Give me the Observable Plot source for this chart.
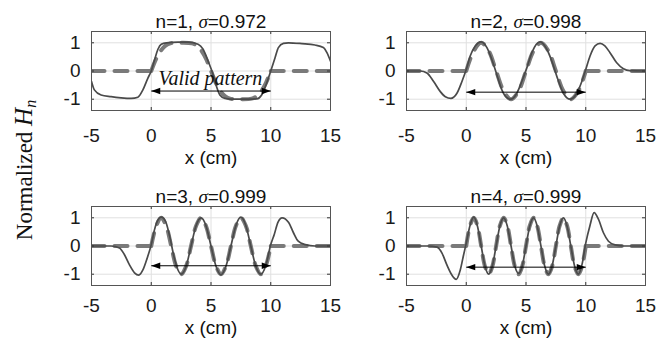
<!DOCTYPE html>
<html>
<head>
<meta charset="utf-8">
<script src="https://cdn.jsdelivr.net/npm/d3@7"></script>
<script src="https://cdn.jsdelivr.net/npm/@observablehq/plot@0.6"></script>
<style>
  html, body { margin: 0; padding: 0; background: #fff; }
  #wrap { position: relative; width: 668px; height: 339px; overflow: hidden; background: #fff; }
  .panel { position: absolute; }
  #ylab {
    position: absolute; width: 260px; height: 28px; line-height: 28px;
    left: -106px; top: 156px; text-align: center;
    transform: rotate(-90deg); transform-origin: 50% 50%;
    font-family: "Liberation Serif", "Times New Roman", serif; font-size: 23px; color: #111;
    white-space: nowrap;
  }
  #ylab i.h { font-size: 25px; }
  #ylab sub { font-size: 70%; vertical-align: -4px; }
</style>
</head>
<body>
<div id="wrap">
  <div id="ylab">Normalized <i class="h">H</i><sub><i>n</i></sub></div>
</div>
<script>
// ---------- data ----------
const xTicks = [-5, 0, 5, 10, 15];
const yTicks = [-1, 0, 1];
const panelNames = ["n=1", "n=2", "n=3", "n=4"];
const sigmaValues = ["0.972", "0.998", "0.999", "0.999"];
const validRange = [0, 10];
const arrowLevel = [-0.71, -0.75, -0.70, -0.75];
const outsideLeftX = [-5, 0];
const outsideRightX = [10, 15];
const annotationText = "Valid pattern";
const annotationAt = [4.95, -0.49];

// target (dashed) patterns inside the valid range
const target1X = [0, 0.4, 0.8, 1.2, 1.6, 2.5, 3.4, 3.8, 4.2, 4.6, 5, 5.4, 5.8, 6.2, 6.6, 7.5, 8.4, 8.8, 9.2, 9.6, 10];
const target1Y = [0, 0.42, 0.72, 0.9, 0.98, 1, 0.98, 0.9, 0.72, 0.42, 0, -0.42, -0.72, -0.9, -0.98, -1, -0.98, -0.9, -0.72, -0.42, 0];
const target2X = [0, 0.63, 1.25, 1.88, 2.5, 3.13, 3.75, 4.38, 5, 5.63, 6.25, 6.88, 7.5, 8.13, 8.75, 9.38, 10];
const target2Y = [0, 0.71, 1, 0.71, 0, -0.71, -1, -0.71, 0, 0.71, 1, 0.71, 0, -0.71, -1, -0.71, 0];
const target3X = [0, 0.42, 0.83, 1.25, 1.67, 2.08, 2.5, 2.92, 3.33, 3.75, 4.17, 4.58, 5, 5.42, 5.83, 6.25, 6.67, 7.08, 7.5, 7.92, 8.33, 8.75, 9.17, 9.58, 10];
const target3Y = [0, 0.71, 1, 0.71, 0, -0.71, -1, -0.71, 0, 0.71, 1, 0.71, 0, -0.71, -1, -0.71, 0, 0.71, 1, 0.71, 0, -0.71, -1, -0.71, 0];
const target4X = [0, 0.31, 0.63, 0.94, 1.25, 1.56, 1.88, 2.19, 2.5, 2.81, 3.13, 3.44, 3.75, 4.06, 4.38, 4.69, 5, 5.31, 5.63, 5.94, 6.25, 6.56, 6.88, 7.19, 7.5, 7.81, 8.13, 8.44, 8.75, 9.06, 9.38, 9.69, 10];
const target4Y = [0, 0.71, 1, 0.71, 0, -0.71, -1, -0.71, 0, 0.71, 1, 0.71, 0, -0.71, -1, -0.71, 0, 0.71, 1, 0.71, 0, -0.71, -1, -0.71, 0, 0.71, 1, 0.71, 0, -0.71, -1, -0.71, 0];

// measured (solid) responses
const meas1X = [-5, -4.76, -4.2, -3.36, -2.52, -1.68, -1.12, -0.7, -0.28, 0, 0.28, 0.56, 0.84, 1.26, 2.24, 3.08, 3.92, 4.34, 4.76, 5.18, 5.46, 5.74, 6.16, 7.0, 8.12, 8.82, 9.24, 9.66, 10, 10.36, 10.64, 11.06, 11.48, 12.6, 13.7, 14.4, 14.7, 15];
const meas1Y = [-0.37, -0.67, -0.85, -0.91, -0.95, -0.97, -0.93, -0.67, -0.25, 0, 0.4, 0.77, 0.95, 1.0, 1.02, 1.02, 0.95, 0.77, 0.35, -0.13, -0.55, -0.85, -0.97, -1.0, -1.0, -0.99, -0.85, -0.43, 0, 0.47, 0.83, 0.98, 1.0, 0.97, 0.92, 0.83, 0.65, 0.35];
const meas2X = [-5, -3.84, -3.29, -2.73, -2.17, -1.75, -1.28, -0.78, -0.36, 0, 0.33, 0.75, 1.23, 1.73, 2.14, 2.56, 2.98, 3.4, 3.73, 4.23, 4.65, 5.07, 5.49, 6.18, 6.74, 7.16, 7.58, 8.13, 8.69, 9.25, 9.67, 10, 10.36, 10.78, 11.2, 11.6, 12.03, 12.59, 13.15, 13.7, 15];
const meas2Y = [0, 0, -0.07, -0.37, -0.73, -0.91, -0.97, -0.79, -0.37, 0.05, 0.53, 0.89, 1.03, 0.83, 0.41, -0.13, -0.67, -0.95, -1.0, -0.79, -0.37, 0.11, 0.65, 1.03, 0.77, 0.35, -0.19, -0.79, -1.0, -0.79, -0.37, 0.05, 0.53, 0.89, 0.98, 0.89, 0.65, 0.29, 0.08, 0.01, 0];
const meas3X = [-5, -3.36, -2.66, -2.24, -1.82, -1.4, -1.04, -0.7, -0.34, 0, 0.28, 0.56, 0.84, 1.18, 1.54, 1.9, 2.24, 2.52, 2.92, 3.33, 3.75, 4.17, 4.58, 5, 5.42, 5.83, 6.25, 6.67, 7.08, 7.5, 7.92, 8.33, 8.75, 9.17, 9.58, 10, 10.3, 10.6, 10.95, 11.5, 11.9, 12.3, 12.9, 13.7, 15];
const meas3Y = [0, 0, -0.07, -0.31, -0.67, -0.95, -1.03, -0.85, -0.43, 0.05, 0.59, 0.92, 1.02, 0.89, 0.35, -0.37, -0.85, -1.0, -0.72, 0, 0.72, 1.0, 0.72, 0, -0.72, -1.02, -0.72, 0, 0.72, 1.02, 0.72, 0, -0.72, -1.0, -0.7, 0.05, 0.42, 0.84, 1.0, 0.83, 0.47, 0.17, 0.05, 0, 0];
const meas4X = [-5, -3.2, -2.45, -2.03, -1.62, -1.2, -0.84, -0.5, -0.22, 0, 0.31, 0.63, 0.94, 1.25, 1.56, 1.88, 2.19, 2.5, 2.81, 3.13, 3.44, 3.75, 4.06, 4.38, 4.69, 5, 5.31, 5.63, 5.94, 6.25, 6.56, 6.88, 7.19, 7.5, 7.81, 8.13, 8.44, 8.75, 9.06, 9.38, 9.69, 10, 10.35, 10.7, 11.06, 11.48, 11.9, 12.45, 13.15, 15];
const meas4Y = [0, 0, -0.04, -0.25, -0.67, -1.03, -1.18, -0.85, -0.31, 0.1, 0.72, 1.02, 0.7, 0, -0.7, -1.0, -0.7, 0, 0.7, 1.0, 0.7, 0, -0.7, -0.97, -0.7, 0, 0.7, 1.0, 0.7, 0, -0.7, -1.0, -0.7, 0, 0.7, 1.0, 0.7, 0, -0.7, -1.0, -0.65, 0.1, 0.72, 1.18, 0.95, 0.47, 0.17, 0.04, 0, 0];

const targetsX = [target1X, target2X, target3X, target4X];
const targetsY = [target1Y, target2Y, target3Y, target4Y];
const measX = [meas1X, meas2X, meas3X, meas4X];
const measY = [meas1Y, meas2Y, meas3Y, meas4Y];

// ---------- drawing ----------
const leftHead = { draw(ctx) { ctx.moveTo(0, 0); ctx.lineTo(9, -3.2); ctx.lineTo(9, 3.2); ctx.closePath(); } };
const rightHead = { draw(ctx) { ctx.moveTo(0, 0); ctx.lineTo(-9, -3.2); ctx.lineTo(-9, 3.2); ctx.closePath(); } };

const layout = [
  { left: 0,   top: 0,   mL: 91, mR: 4,  H: 170, mB: 60, pad: 18, xlab: 53 },
  { left: 334, top: 0,   mL: 72, mR: 23, H: 170, mB: 60, pad: 18, xlab: 53 },
  { left: 0,   top: 175, mL: 91, mR: 4,  H: 164, mB: 54, pad: 13, xlab: 48 },
  { left: 334, top: 175, mL: 72, mR: 23, H: 164, mB: 54, pad: 13, xlab: 48 }
];

const wrap = document.getElementById("wrap");

layout.forEach((L, i) => {
  const tgt = [];
  outsideLeftX.forEach(x => tgt.push({ x, y: 0, s: "a" }));
  targetsX[i].forEach((x, k) => tgt.push({ x, y: targetsY[i][k], s: "b" }));
  outsideRightX.forEach(x => tgt.push({ x, y: 0, s: "c" }));
  const meas = measX[i].map((x, k) => ({ x, y: measY[i][k] }));
  const arrow = [{ x1: validRange[0], x2: validRange[1], y: arrowLevel[i] }];
  const title = `${panelNames[i]}, σ=${sigmaValues[i]}`;
  const plotH = L.H - 31 - L.mB;

  const marks = [
    Plot.ruleX(xTicks, { stroke: "#e0e0e0", strokeWidth: 1 }),
    Plot.ruleY(yTicks, { stroke: "#e0e0e0", strokeWidth: 1 }),
    Plot.line(tgt, { x: "x", y: "y", z: "s", curve: "catmull-rom", stroke: "#7a7a7a", strokeWidth: 4, strokeDasharray: "13,10", clip: true }),
    Plot.line(meas, { x: "x", y: "y", curve: "monotone-x", stroke: "#4a4a4a", strokeWidth: 1.7, clip: true }),
    Plot.link(arrow, { x1: "x1", x2: "x2", y1: "y", y2: "y", stroke: "#000", strokeWidth: 1 }),
    Plot.dot(arrow, { x: "x1", y: "y", symbol: leftHead, fill: "#000", stroke: "none", r: 3 }),
    Plot.dot(arrow, { x: "x2", y: "y", symbol: rightHead, fill: "#000", stroke: "none", r: 3 }),
    // inward ticks
    Plot.ruleX(xTicks, { stroke: "#333", insetTop: plotH - 3 }),
    Plot.ruleX(xTicks, { stroke: "#333", insetBottom: plotH - 3 }),
    Plot.ruleY(yTicks, { stroke: "#333", insetRight: 239 - 3 }),
    Plot.ruleY(yTicks, { stroke: "#333", insetLeft: 239 - 3 }),
    Plot.frame({ stroke: "#555", strokeWidth: 1 }),
    Plot.text([title], { text: d => d, frameAnchor: "top", lineAnchor: "bottom", dy: -4, fontSize: 19, fill: "#111" }),
    Plot.text(["x (cm)"], { text: d => d, frameAnchor: "bottom", lineAnchor: "bottom", dy: L.xlab, fontSize: 19, fill: "#111" })
  ];
  if (i === 0) {
    marks.push(Plot.text([annotationText], {
      x: () => annotationAt[0], y: () => annotationAt[1], text: d => d, lineAnchor: "bottom",
      fontFamily: "Liberation Serif, Times New Roman, serif", fontStyle: "italic", fontSize: 20, fill: "#111"
    }));
  }

  const svg = Plot.plot({
    width: 334,
    height: L.H,
    marginLeft: L.mL,
    marginRight: L.mR,
    marginTop: 31,
    marginBottom: L.mB,
    style: { fontFamily: "Liberation Sans, Arial, sans-serif", fontSize: "19px", color: "#1a1a1a", background: "transparent", overflow: "visible" },
    x: { domain: [-5, 15], ticks: xTicks, tickSize: 0, tickPadding: L.pad, tickFormat: d => String(d), label: null },
    y: { domain: [-1.4, 1.4], ticks: yTicks, tickSize: 0, tickPadding: 11, tickFormat: d => String(d), label: null },
    marks
  });

  // italic serif sigma in the title
  d3.select(svg).selectAll("text").filter(function () { return this.textContent === title; })
    .each(function () {
      const t = d3.select(this);
      t.text(null);
      t.append("tspan").text(`${panelNames[i]}, `);
      t.append("tspan").attr("font-style", "italic").attr("font-family", "Liberation Serif, Times New Roman, serif").text("σ");
      t.append("tspan").text(`=${sigmaValues[i]}`);
    });

  const div = document.createElement("div");
  div.className = "panel";
  div.style.left = L.left + "px";
  div.style.top = L.top + "px";
  div.appendChild(svg);
  wrap.appendChild(div);
});
</script>
</body>
</html>
